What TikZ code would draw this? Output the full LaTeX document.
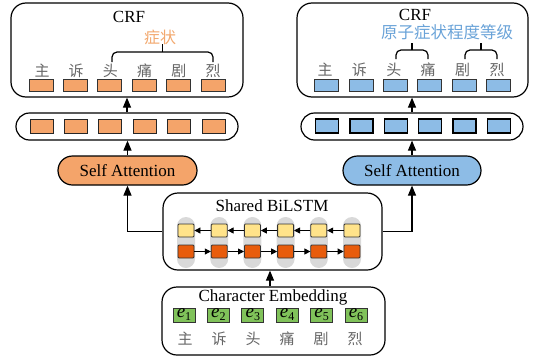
\documentclass[tikz,border=0pt]{standalone}
\usepackage{fontspec}
\setmainfont{Liberation Serif}
\newfontfamily\cjk{Noto Sans CJK SC}
\usetikzlibrary{arrows.meta}
\definecolor{org}{HTML}{F4A46A}
\definecolor{blu}{HTML}{8DBCE6}
\definecolor{yel}{HTML}{FFE38A}
\definecolor{dorg}{HTML}{E85C0C}
\definecolor{grn}{HTML}{80C25A}
\definecolor{pillc}{HTML}{D9D9D9}
\definecolor{orgtxt}{HTML}{F2A86E}
\definecolor{blutxt}{HTML}{6AA3D8}
\begin{document}
\begin{tikzpicture}[x=1pt,y=-1pt,
  box/.style={draw, line width=1.2pt, rounded corners=15pt, inner sep=0pt},
  pillbox/.style={draw, line width=1.2pt, rounded corners=13.5pt, inner sep=0pt, minimum width=222pt, minimum height=27pt},
  lbl/.style={font=\fontsize{17}{20}\selectfont, inner sep=0pt},
  zh/.style={font=\cjk\fontsize{15}{18}\selectfont, text=black!60, inner sep=0pt},
  cell/.style={draw=black!80, line width=0.8pt, minimum width=24pt, minimum height=12pt, inner sep=0pt},
  mcell/.style={draw=black!85, line width=1pt, minimum width=23pt, minimum height=14pt, inner sep=0pt},
  lcell/.style={draw=black!80, line width=0.8pt, minimum width=16pt, minimum height=13pt, inner sep=0pt, rounded corners=1pt},
  gcell/.style={draw=black!80, line width=0.8pt, minimum width=22pt, minimum height=14pt, inner sep=0pt},
  lpill/.style={fill=pillc, rounded corners=9pt, minimum width=18pt, minimum height=51pt, inner sep=0pt},
  arr/.style={line width=1.2pt, -{Triangle[length=10pt,width=8pt]}},
  sarr/.style={line width=0.8pt, -{Triangle[length=6pt,width=6pt]}},
  brace/.style={line width=1.2pt, rounded corners=5pt}
]
\useasboundingbox (0,0) rectangle (537,359);

% ---------- left CRF ----------
\node[box, minimum width=232pt, minimum height=94pt] (crfL) at (127,50) {};
\node[lbl] (crfLt) at (129,17) {CRF};
\node[zh, text=orgtxt, font=\cjk\fontsize{16}{18}\selectfont] (symL) at (160,37) {症状};
\foreach \c [count=\k from 0] in {主,诉,头,痛,剧,烈} {
  \node[cell, fill=org] (lc\k) at ({41+34.4*\k},85) {};
  \node[zh] (lz\k) at ({42+34.2*\k},71) {\c};
}
\coordinate (bL1) at (112,62);
\coordinate (bL2) at (213,62);
\coordinate (bLm) at (162.5,52);
\coordinate (bLt) at (162.5,44);
\draw[brace] (bL1) |- (bLm) -| (bL2);
\draw[line width=1.2pt] (bLm) -- (bLt);

% ---------- right CRF ----------
\node[box, minimum width=231pt, minimum height=94pt] (crfR) at (412.5,50) {};
\node[lbl] (crfRt) at (415,15) {CRF};
\node[zh, text=blutxt, font=\cjk\fontsize{16.5}{18}\selectfont] (symR) at (447,32) {原子症状程度等级};
\foreach \c [count=\k from 0] in {主,诉,头,痛,剧,烈} {
  \node[cell, fill=blu] (rc\k) at ({326.5+34.4*\k},85) {};
  \node[zh] (rz\k) at ({325+34.4*\k},70) {\c};
}
\coordinate (bR1) at (396,59);
\coordinate (bR2) at (428,59);
\coordinate (bRm) at (412,50);
\coordinate (bRt) at (412,43);
\draw[brace] (bR1) |- (bRm) -| (bR2);
\draw[line width=1.2pt] (bRm) -- (bRt);
\coordinate (bS1) at (465,59);
\coordinate (bS2) at (497,59);
\coordinate (bSm) at (481,50);
\coordinate (bSt) at (481,43);
\draw[brace] (bS1) |- (bSm) -| (bS2);
\draw[line width=1.2pt] (bSm) -- (bSt);

% ---------- middle layers ----------
\node[pillbox] (mL) at (127,126.5) {};
\node[pillbox] (mR) at (412,126.5) {};
\foreach \k in {0,...,5} {
  \node[mcell, fill=org] (ml\k) at ({41.5+34.4*\k},126) {};
  \node[mcell, fill=blu, draw=black, line width=1.5pt] (mr\k) at ({327+34.4*\k},126) {};
}

% ---------- self attention ----------
\node[draw, line width=1.2pt, fill=org, rounded corners=14.5pt, minimum width=139pt, minimum height=29pt, lbl] (saL) at (127.5,170.5) {Self Attention};
\node[draw, line width=1.2pt, fill=blu, rounded corners=14.5pt, minimum width=138pt, minimum height=29pt, lbl] (saR) at (412,170.5) {Self Attention};

% ---------- BiLSTM ----------
\node[box, minimum width=219pt, minimum height=77pt] (lstm) at (272.5,231.5) {};
\node[lbl] (lstmt) at (272,206) {Shared BiLSTM};
\foreach \k in {0,...,5} {
  \node[lpill] (lp\k) at ({186+33.2*\k},242.5) {};
  \node[lcell, fill=yel] (ly\k) at ({186+33.2*\k},230.5) {};
  \node[lcell, fill=dorg] (lr\k) at ({186+33.2*\k},251.5) {};
}
\foreach \k in {0,...,4} {
  \pgfmathtruncatemacro{\j}{\k+1}
  \draw[sarr] (ly\j.west) -- (ly\k.east);
  \draw[sarr] (lr\k.east) -- (lr\j.west);
}

% ---------- Character Embedding ----------
\node[box, minimum width=223pt, minimum height=68pt] (emb) at (273.5,321) {};
\node[lbl] (embt) at (273,297) {Character Embedding};
\foreach \c [count=\k from 0] in {主,诉,头,痛,剧,烈} {
  \pgfmathtruncatemacro{\n}{\k+1}
  \node[gcell, fill=grn, font=\fontsize{19}{19}\selectfont] (ge\k) at ({184+34.4*\k},315) {\textit{e}\raisebox{-3pt}{\fontsize{12}{12}\selectfont\n}};
  \node[zh] (ez\k) at ({185+34*\k},339) {\c};
}

% ---------- connectors ----------
\draw[arr] (mL.north) -- (crfL.south -| mL.north);
\draw[arr] (mR.north) -- (crfR.south -| mR.north);
\draw[arr] (saL.north) -- (mL.south -| saL.north);
\draw[arr] (saR.north) -- (mR.south -| saR.north);
\draw[arr] (lstm.west) -- (saL.south |- lstm.west) -- (saL.south);
\draw[arr] (lstm.east) -- (saR.south |- lstm.east) -- (saR.south);
\draw[arr] (emb.north -| 270,0) -- (lstm.south -| 270,0);
\end{tikzpicture}
\end{document}
